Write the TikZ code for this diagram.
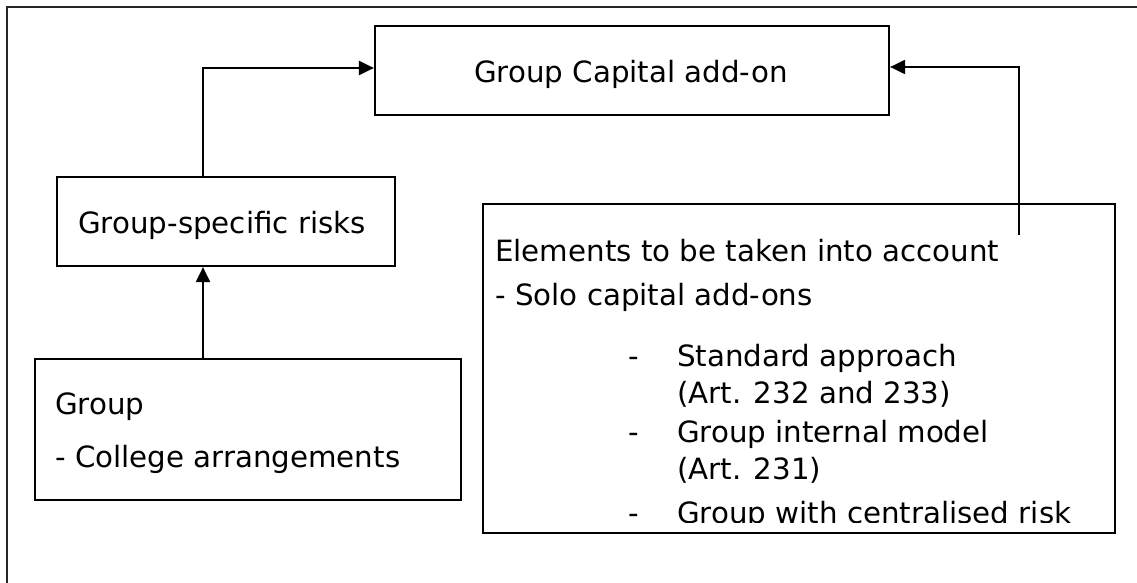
\documentclass[tikz,border=0pt]{standalone}
\usepackage{fontspec}
\setmainfont{DejaVu Sans}
\usetikzlibrary{arrows.meta}
\begin{document}
\begin{tikzpicture}[x=1pt,y=-1pt,
  bx/.style={draw,line width=2.2pt,inner sep=0pt,rectangle},
  txt/.style={anchor=base west,inner sep=0pt,font=\fontsize{29.3}{35}\selectfont},
  conn/.style={line width=2.1pt,-{Triangle[length=15pt,width=14pt]}}]
\useasboundingbox (0,0) rectangle (1137,583);
% outer frame (only left and top edges visible)
\draw[line width=2pt,black!85] (7,583) -- (7,7) -- (1137,7);
% boxes
\node[bx,minimum width=514pt,minimum height=89pt] (cap) at (632,70.5) {};
\node[bx,minimum width=338pt,minimum height=89pt] (gsr) at (226,221.5) {};
\node[bx,minimum width=426pt,minimum height=141pt] (grp) at (248,429.5) {};
\node[bx,minimum width=632pt,minimum height=329pt] (elem) at (799,368.5) {};
% helper coordinates
\coordinate (xa) at (203,0);
\coordinate (ya) at (0,68);
\coordinate (yb) at (0,67);
\coordinate (rend) at (1019,235);
% texts
\node[txt] (capt) at (474,83) {Group Capital add-on};
\node[txt] (gsrt) at (78,233) {Group-specific risks};
\node[txt] (grpt1) at (55,414) {Group};
\node[txt] (grpt2) at (55,467) {- College arrangements};
\begin{scope}
\clip (484,205) rectangle (1114,522);
\node[txt] (e1) at (495,261) {Elements to be taken into account};
\node[txt] (e2) at (495,305) {- Solo capital add-ons};
\node[txt] (d1) at (628,366) {-};
\node[txt] (e3) at (677,366) {Standard approach};
\node[txt] (e4) at (677,403) {(Art. 232 and 233)};
\node[txt] (d2) at (628,442) {-};
\node[txt] (e5) at (677,442) {Group internal model};
\node[txt] (e6) at (677,479) {(Art. 231)};
\node[txt] (d3) at (628,523.5) {-};
\node[txt] (e7) at (677,523.5) {Group with centralised risk};
\end{scope}
% connectors
\draw[conn] (gsr.north -| xa) |- (cap.west |- ya);
\draw[conn] (grp.north -| xa) -- (gsr.south -| xa);
\draw[conn] (rend) |- (cap.east |- yb);
\end{tikzpicture}
\end{document}
